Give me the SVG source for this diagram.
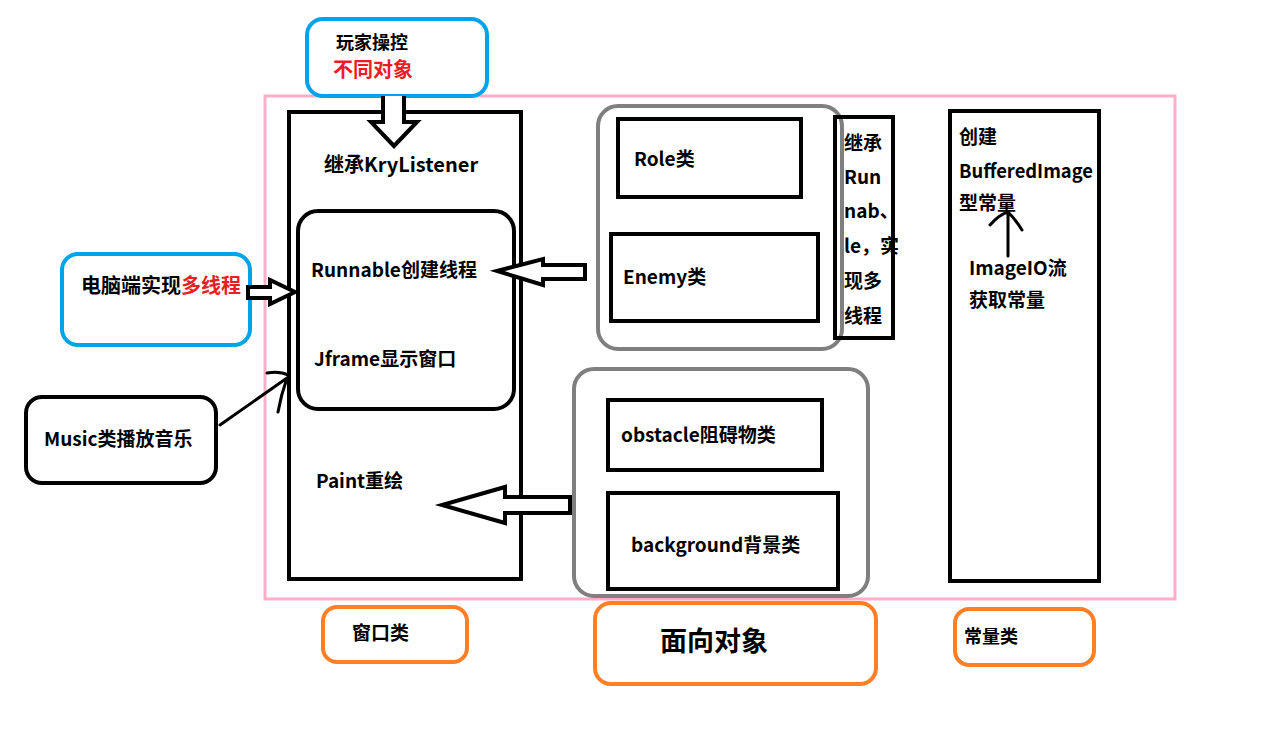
<svg xmlns="http://www.w3.org/2000/svg" width="1285" height="738" viewBox="0 0 1285 738">
<style>
text{font-family:"Noto Sans CJK SC","Open Sans",sans-serif;font-weight:bold;fill:#000;font-size:19px}
.s18{font-size:18px}
.s20{font-size:20px}
.s27{font-size:27px}
.red{fill:#ed1c24}
.blk{fill:none;stroke:#000;stroke-width:4}
.gray{fill:none;stroke:#7f7f7f;stroke-width:4}
.blue{fill:none;stroke:#00a2e8;stroke-width:4}
.org{fill:none;stroke:#ff7f27;stroke-width:4}
.arr{fill:#fff;stroke:#000;stroke-width:4;stroke-linejoin:miter}
</style>
<rect width="1285" height="738" fill="#fff"/>
<rect id="frame" x="265" y="96" width="910" height="503" fill="none" stroke="#ffaec9" stroke-width="3"/>

<g id="player">
<rect class="blue" x="307" y="19" width="180" height="77" rx="16"/>
<text x="336" y="49" class="s18">玩家操控</text>
<text x="333" y="77" class="red s20">不同对象</text>
</g>

<g id="window">
<rect class="blk" x="289" y="112" width="232" height="467"/>
<text x="324" y="172" class="s20">继承KryListener</text>
<text x="316" y="488">Paint重绘</text>
</g>
<g id="thread">
<rect class="blk" x="298" y="211" width="216" height="198" rx="20"/>
<text x="311" y="277">Runnable创建线程</text>
<text x="314" y="366">Jframe显示窗口</text>
</g>

<g id="pc">
<rect class="blue" x="62" y="254" width="188" height="91" rx="16"/>
<text x="81" y="293" class="s20">电脑端实现<tspan class="red">多线程</tspan></text>
</g>

<g id="music">
<rect class="blk" x="26" y="397" width="190" height="86" rx="16"/>
<text x="44" y="446">Music类播放音乐</text>
</g>

<g id="objs1">
<rect class="gray" x="598" y="106" width="244" height="243" rx="20"/>
</g>
<g id="role">
<rect class="blk" x="618" y="119" width="183" height="78"/>
<text x="634" y="166">Role类</text>
</g>
<g id="enemy">
<rect class="blk" x="611" y="234" width="207" height="87"/>
<text x="623" y="284">Enemy类</text>
</g>
<g id="runnable-note">
<rect class="blk" x="835" y="117" width="58" height="221"/>
<text x="844" y="150">继承</text>
<text x="844" y="184">Run</text>
<text x="844" y="218">nab、</text>
<text x="844" y="253">le，实</text>
<text x="844" y="288">现多</text>
<text x="844" y="323">线程</text>
</g>

<g id="objs2">
<rect class="gray" x="574" y="369" width="294" height="227" rx="20"/>
</g>
<g id="obstacle">
<rect class="blk" x="608" y="400" width="214" height="70"/>
<text x="621" y="442">obstacle阻碍物类</text>
</g>
<g id="background">
<rect class="blk" x="608" y="493" width="230" height="96"/>
<text x="631" y="552">background背景类</text>
</g>

<g id="constants">
<rect class="blk" x="950" y="111" width="149" height="470"/>
<text x="959" y="144">创建</text>
<text x="959" y="178" textLength="134" lengthAdjust="spacingAndGlyphs">BufferedImage</text>
<text x="959" y="210">型常量</text>
<text x="969" y="275">ImageIO流</text>
<text x="969" y="307">获取常量</text>
</g>

<g id="label-window">
<rect class="org" x="323" y="607" width="144" height="55" rx="14"/>
<text x="352" y="640">窗口类</text>
</g>
<g id="label-oop">
<rect class="org" x="595" y="603" width="281" height="81" rx="16"/>
<text x="660" y="651" class="s27">面向对象</text>
</g>
<g id="label-const">
<rect x="956" y="609" width="137" height="55" rx="14" fill="none" stroke="#00a2e8" stroke-width="1"/>
<rect class="org" x="955" y="609" width="139" height="56" rx="14"/>
<text x="964" y="643" class="s18">常量类</text>
</g>

<g id="connectors">
<path class="arr" d="M383 96 V122 H371 L394 146 L417 122 H404 V96"/>
<path class="arr" d="M585 265 H543 V259 L497 271 L543 285 V279 H585 Z"/>
<path class="arr" d="M570 497 H505 V487 L442 505 L505 523 V513 H570 Z"/>
<path class="arr" d="M248 287 H270 V280 L295 292 L270 304 V298 H248 Z"/>
<path d="M220 425 L287 378 M267 373 Q280 371 288 375 M287 378 Q281 395 278 412" fill="none" stroke="#000" stroke-width="3" stroke-linecap="round"/>
<path d="M1008 256 V214 M990 225 Q1000 214 1008 212 Q1016 220 1022 230" fill="none" stroke="#000" stroke-width="3" stroke-linecap="round"/>
</g>
</svg>
